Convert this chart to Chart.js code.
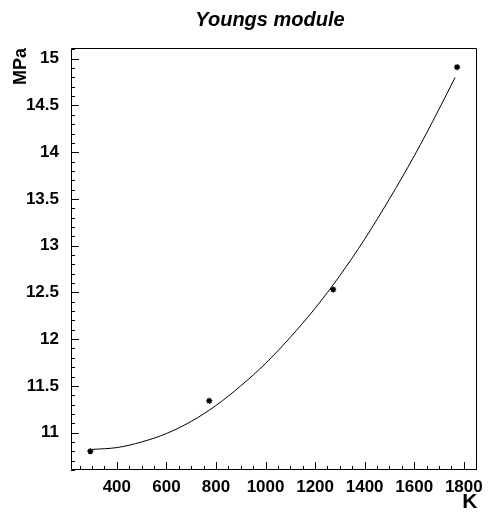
<!DOCTYPE html>
<html>
<head>
<meta charset="utf-8">
<script src="https://cdn.jsdelivr.net/npm/chart.js@4/dist/chart.umd.min.js"></script>
<style>
  html, body { margin: 0; padding: 0; background: #fff; }
  canvas { display: block; }
</style>
</head>
<body>
<canvas id="c" width="490" height="514"></canvas>
<script>
// ---- data ----
const chartTitle = "Youngs module";
const xTitle = "K";
const yTitle = "MPa";
const xTicks = [400, 600, 800, 1000, 1200, 1400, 1600, 1800];
const yTicks = [11, 11.5, 12, 12.5, 13, 13.5, 14, 14.5, 15];
const xRange = [215, 1855];
const yRange = [10.60, 15.115];
// measured points
const kelvin = [293, 773, 1273, 1773];
const modulus = [10.80, 11.34, 12.53, 14.91];
// fit curve
const fitK   = [300, 400, 500, 600, 700, 800, 900, 1000, 1100, 1200, 1300, 1400, 1500, 1600, 1700, 1765];
const fitMPa = [10.82, 10.84, 10.90, 10.99, 11.12, 11.29, 11.50, 11.74, 12.02, 12.33, 12.68, 13.07, 13.50, 13.96, 14.46, 14.80];

const FONT = "'Liberation Sans', Arial, Helvetica, sans-serif";

const framePlugin = {
  id: 'frame',
  afterDraw(chart) {
    const { ctx, chartArea: a, scales: { x, y } } = chart;
    ctx.save();
    ctx.strokeStyle = '#000';
    ctx.lineWidth = 1;
    ctx.beginPath();
    ctx.rect(Math.round(a.left) + 0.5, Math.round(a.top) + 0.5,
             Math.round(a.right - a.left) - 1, Math.round(a.bottom - a.top) - 1);
    // x ticks (minor every 50, major every 200), drawn inside the frame
    for (let k = Math.ceil(x.min / 50); k * 50 <= x.max; k++) {
      const v = k * 50;
      const px = Math.round(x.getPixelForValue(v)) + 0.5;
      const len = (v % 200 === 0) ? 8 : 4;
      ctx.moveTo(px, a.bottom);
      ctx.lineTo(px, a.bottom - len);
    }
    // y ticks (minor every 0.1, major every 0.5)
    for (let k = Math.ceil(y.min * 10 - 1e-9); k <= Math.floor(y.max * 10 + 1e-9); k++) {
      const v = k / 10;
      const py = Math.round(y.getPixelForValue(v)) + 0.5;
      const len = (k % 5 === 0) ? 8 : 4;
      ctx.moveTo(a.left, py);
      ctx.lineTo(a.left + len, py);
    }
    ctx.stroke();

    ctx.fillStyle = '#000';
    // chart title
    ctx.font = "italic bold 20px " + FONT;
    ctx.textAlign = 'center';
    ctx.textBaseline = 'alphabetic';
    ctx.fillText(chartTitle, 270, 26);
    // x axis title
    ctx.font = "bold 21px " + FONT;
    ctx.textAlign = 'right';
    ctx.fillText(xTitle, a.right, 508);
    // y axis title (rotated)
    ctx.save();
    ctx.translate(26, a.top);
    ctx.rotate(-Math.PI / 2);
    ctx.font = "bold 18px " + FONT;
    ctx.textAlign = 'right';
    ctx.fillText(yTitle, 0, 0);
    ctx.restore();
    ctx.restore();
  }
};

new Chart(document.getElementById('c'), {
  type: 'scatter',
  data: {
    datasets: [
      {
        label: 'fit',
        data: fitK.map((k, i) => ({ x: k, y: fitMPa[i] })),
        showLine: true,
        borderColor: '#000',
        borderWidth: 1,
        pointRadius: 0,
        cubicInterpolationMode: 'monotone',
        fill: false
      },
      {
        label: 'data',
        data: kelvin.map((k, i) => ({ x: k, y: modulus[i] })),
        pointStyle: 'star',
        pointRadius: 3,
        borderColor: '#000',
        backgroundColor: '#000',
        borderWidth: 1.5,
        showLine: false
      }
    ]
  },
  options: {
    responsive: false,
    animation: false,
    devicePixelRatio: 1,
    layout: { padding: { top: 48, right: 9, left: 0, bottom: 0 } },
    plugins: { legend: { display: false }, tooltip: { enabled: false }, title: { display: false } },
    scales: {
      x: {
        type: 'linear',
        min: xRange[0], max: xRange[1],
        grid: { display: false, drawTicks: false },
        border: { display: false },
        afterBuildTicks: s => { s.ticks = xTicks.map(v => ({ value: v })); },
        afterFit: s => { s.height = 44; },
        ticks: {
          color: '#000',
          padding: 7,
          maxRotation: 0,
          autoSkip: false,
          font: { family: FONT, size: 17, weight: 'bold' },
          callback: v => String(v)
        }
      },
      y: {
        type: 'linear',
        min: yRange[0], max: yRange[1],
        grid: { display: false, drawTicks: false },
        border: { display: false },
        afterBuildTicks: s => { s.ticks = yTicks.map(v => ({ value: v })); },
        afterFit: s => { s.width = 71; },
        ticks: {
          color: '#000',
          padding: 12,
          autoSkip: false,
          font: { family: FONT, size: 17, weight: 'bold' },
          callback: v => String(v)
        }
      }
    }
  },
  plugins: [framePlugin]
});
</script>
</body>
</html>
